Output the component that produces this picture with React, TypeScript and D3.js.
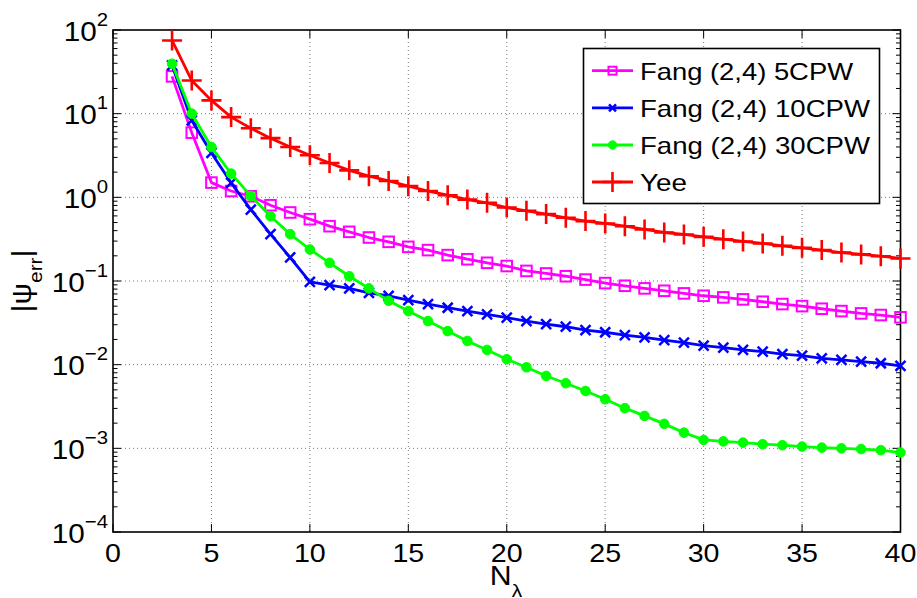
import React from "react";
import * as d3 from "d3";

const N = d3.range(3, 41);
const seriesNames = ["Fang (2,4) 5CPW", "Fang (2,4) 10CPW", "Fang (2,4) 30CPW", "Yee"];
const fang5 = [27.9, 5.93, 1.5, 1.19, 1.03, 0.805, 0.659, 0.548, 0.452, 0.387, 0.331, 0.294, 0.256, 0.234, 0.204, 0.182, 0.165, 0.151, 0.132, 0.123, 0.114, 0.104, 0.0944, 0.0877, 0.0816, 0.0764, 0.0711, 0.0666, 0.0637, 0.0603, 0.0565, 0.053, 0.0501, 0.0466, 0.0437, 0.041, 0.0392, 0.0368];
const fang10 = [37.7, 8.3, 3.39, 1.49, 0.714, 0.363, 0.191, 0.0977, 0.0893, 0.0816, 0.0723, 0.0666, 0.0591, 0.053, 0.0479, 0.0437, 0.0399, 0.0364, 0.0332, 0.0306, 0.0284, 0.0259, 0.0244, 0.0226, 0.0212, 0.0197, 0.0183, 0.0169, 0.016, 0.015, 0.0143, 0.0134, 0.0128, 0.0119, 0.0114, 0.0109, 0.0104, 0.0097];
const fang30 = [39.5, 10.0, 3.99, 1.92, 1.04, 0.594, 0.363, 0.238, 0.165, 0.114, 0.0816, 0.058, 0.0437, 0.0332, 0.0252, 0.0192, 0.015, 0.0116, 0.0093, 0.00733, 0.006, 0.00485, 0.00386, 0.00302, 0.00244, 0.00196, 0.00154, 0.00126, 0.00121, 0.00117, 0.00112, 0.00109, 0.00105, 0.00102, 0.001, 0.00098, 0.00095, 0.00089];
const yee = [75, 24.9, 14.4, 9.1, 6.7, 5.1, 4.0, 3.18, 2.57, 2.1, 1.79, 1.57, 1.36, 1.19, 1.06, 0.94, 0.86, 0.755, 0.69, 0.63, 0.57, 0.52, 0.487, 0.452, 0.413, 0.38, 0.36, 0.337, 0.316, 0.297, 0.281, 0.263, 0.249, 0.234, 0.219, 0.208, 0.198, 0.186];
const xTicks = [0, 5, 10, 15, 20, 25, 30, 35, 40];
const yExps = [2, 1, 0, -1, -2, -3, -4];
const colors = ["#ff00ff", "#0000ff", "#00ff00", "#ff0000"];
const markers = ["square", "x", "dot", "plus"];

const L = 113, R = 900.5, T = 30, B = 532;
const FONT = "'Liberation Sans', Arial, Helvetica, sans-serif";
const SX = 1.1;

function Marker({ type, x, y, color, small }: any) {
  if (type === "square") {
    const s = small ? 4 : 5.3;
    return <rect x={x - s} y={y - s} width={2 * s} height={2 * s} fill="none" stroke={color} strokeWidth={2} />;
  }
  if (type === "x") {
    const s = small ? 3.5 : 5;
    return <path d={`M${x - s},${y - s}L${x + s},${y + s}M${x - s},${y + s}L${x + s},${y - s}`} stroke={color} strokeWidth={2.5} fill="none" />;
  }
  if (type === "dot") {
    return <circle cx={x} cy={y} r={small ? 4.2 : 4.8} fill={color} stroke={color} strokeWidth={1} />;
  }
  const s = 10;
  return <path d={`M${x - s},${y}L${x + s},${y}M${x},${y - s}L${x},${y + s}`} stroke={color} strokeWidth={2.6} fill="none" />;
}

export default function App() {
  const x = d3.scaleLinear().domain([0, 40]).range([L, R]);
  const y = d3.scaleLog().domain([1e-4, 1e2]).range([B, T]);
  const series = [fang5, fang10, fang30, yee];
  const line = d3.line<[number, number]>().x((d) => x(d[0])).y((d) => y(d[1]));
  const minor: number[] = [];
  for (let e = -4; e < 2; e++) for (let m = 2; m <= 9; m++) minor.push(m * Math.pow(10, e));
  const legendRows = [70.7, 107.8, 145, 182];
  const textLens = [213, 230, 230, 47];

  return (
    <svg width={917} height={598} style={{ position: "absolute", left: 0, top: 0, background: "#fff" }} fontFamily={FONT}>
      <rect x={0} y={0} width={917} height={598} fill="#fff" />
      {/* grid */}
      {xTicks.slice(1, -1).map((t) => (
        <line key={"gx" + t} x1={x(t)} x2={x(t)} y1={T} y2={B} stroke="#777" strokeWidth={1} strokeDasharray="1,3" />
      ))}
      {yExps.slice(1, -1).map((e) => (
        <line key={"gy" + e} x1={L} x2={R} y1={y(Math.pow(10, e))} y2={y(Math.pow(10, e))} stroke="#777" strokeWidth={1} strokeDasharray="1,3" />
      ))}
      {/* ticks */}
      {xTicks.map((t) => (
        <g key={"tx" + t}>
          <line x1={x(t)} x2={x(t)} y1={B} y2={B - 8} stroke="#000" strokeWidth={1} />
          <line x1={x(t)} x2={x(t)} y1={T} y2={T + 8} stroke="#000" strokeWidth={1} />
        </g>
      ))}
      {yExps.map((e) => (
        <g key={"ty" + e}>
          <line x1={L} x2={L + 8} y1={y(Math.pow(10, e))} y2={y(Math.pow(10, e))} stroke="#000" strokeWidth={1} />
          <line x1={R} x2={R - 8} y1={y(Math.pow(10, e))} y2={y(Math.pow(10, e))} stroke="#000" strokeWidth={1} />
        </g>
      ))}
      {minor.map((v, i) => (
        <g key={"mn" + i}>
          <line x1={L} x2={L + 4.5} y1={y(v)} y2={y(v)} stroke="#000" strokeWidth={1} />
          <line x1={R} x2={R - 4.5} y1={y(v)} y2={y(v)} stroke="#000" strokeWidth={1} />
        </g>
      ))}
      {/* axes box */}
      <rect x={L} y={T} width={R - L} height={B - T} fill="none" stroke="#000" strokeWidth={1.6} />
      {/* tick labels */}
      {xTicks.map((t) => (
        <g key={"lx" + t} transform={`translate(${x(t)},561.5) scale(${SX},1)`}>
          <text textAnchor="middle" fontSize={26} fill="#000">{t}</text>
        </g>
      ))}
      {yExps.map((e) => (
        <g key={"ly" + e} transform={`translate(108,${y(Math.pow(10, e)) + 10.5}) scale(${SX},1)`}>
          <text textAnchor="end" fontSize={27} fill="#000">
            10<tspan fontSize={18.5} dy={-15}>{e < 0 ? "\u2212" + Math.abs(e) : String(e)}</tspan>
          </text>
        </g>
      ))}
      {/* axis labels */}
      <g transform={`translate(506,585) scale(${SX},1)`}>
        <text textAnchor="middle" fontSize={27.5} fill="#000">
          N<tspan fontSize={19} dy={12}>λ</tspan>
        </text>
      </g>
      <g transform={`translate(31,281) rotate(-90) scale(${SX},1)`}>
        <text textAnchor="middle" fontSize={27.5} fill="#000">
          |ψ<tspan fontSize={19} dy={11}>err</tspan><tspan dy={-11}>|</tspan>
        </text>
      </g>
      {/* series */}
      {series.map((s, i) => (
        <g key={"s" + i}>
          <path d={line(N.map((n, j) => [n, s[j]] as [number, number])) || ""} fill="none" stroke={colors[i]} strokeWidth={2.8} strokeLinejoin="round" />
          {N.map((n, j) => (
            <Marker key={j} type={markers[i]} x={x(n)} y={y(s[j])} color={colors[i]} />
          ))}
        </g>
      ))}
      {/* legend */}
      <rect x={583.5} y={48.5} width={296} height={155} fill="#fff" stroke="#000" strokeWidth={1.6} />
      {seriesNames.map((name, i) => (
        <g key={"lg" + i}>
          <line x1={592} x2={633} y1={legendRows[i]} y2={legendRows[i]} stroke={colors[i]} strokeWidth={2.8} />
          <Marker type={markers[i]} x={612.5} y={legendRows[i]} color={colors[i]} small />
          <text x={640} y={legendRows[i] + 9} fontSize={24} fill="#000" textLength={textLens[i]} lengthAdjust="spacingAndGlyphs">{name}</text>
        </g>
      ))}
    </svg>
  );
}
